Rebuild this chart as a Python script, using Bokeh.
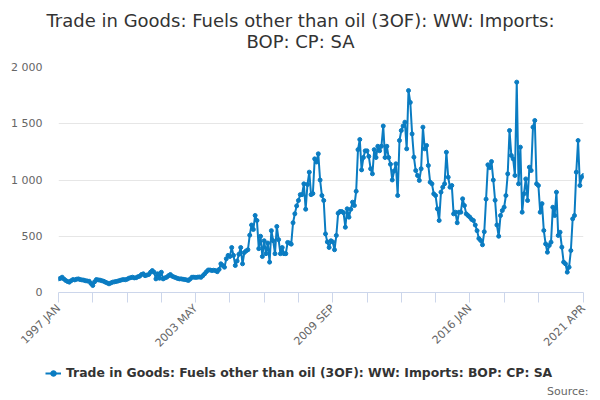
import math
from bokeh.plotting import figure
from bokeh.layouts import column
from bokeh.models import (ColumnDataSource, FixedTicker, Label, Legend, LegendItem,
                          Range1d)
from bokeh.embed import file_html
from bokeh.resources import INLINE

# Monthly values, 1997 JAN .. 2021 APR (month index 0..291)
values_1997_2002 = [
    121, 125, 136, 120, 107, 98, 92, 105, 115, 112, 118, 121,
    115, 112, 110, 105, 102, 100, 80, 62, 95, 115, 112, 110,
    105, 100, 92, 85, 77, 85, 92, 95, 98, 102, 107, 112,
    115, 113, 118, 127, 132, 136, 130, 131, 140, 145, 160, 166,
    150, 155, 160, 180, 195, 180, 121, 166, 127, 180, 121, 130,
    136, 150, 160, 145, 138, 132, 125, 121, 121, 118, 115, 112,
]
values_2003_2008 = [
    107, 120, 136, 136, 134, 136, 138, 135, 150, 166, 185, 200,
    200, 195, 198, 195, 185, 205, 255, 240, 225, 300, 330, 320,
    400, 330, 240, 280, 340, 400, 255, 355, 370, 380, 510, 600,
    560, 685, 640, 390, 500, 320, 460, 345, 440, 270, 550, 460,
    345, 587, 470, 345, 400, 345, 345, 445, 440, 430, 620, 700,
    770, 818, 870, 870, 966, 740, 960, 1070, 870, 880, 1188, 1160,
]
values_2009_2014 = [
    1233, 1000, 862, 818, 521, 450, 400, 460, 450, 380, 507, 705,
    720, 720, 710, 580, 744, 670, 740, 803, 773, 900, 1270, 1360,
    1090, 1200, 1259, 1259, 1210, 1100, 1055, 1270, 1200, 1300, 1260, 1300,
    1480, 1200, 1300, 1200, 1140, 1000, 1080, 1144, 862, 1351, 1440, 1480,
    1514, 1277, 1795, 1690, 1410, 1203, 1084, 1040, 996, 1100, 1470, 1277,
    1307, 1129, 981, 966, 877, 862, 744, 640, 892, 936, 966, 1247,
]
values_2015_2021 = [
    1025, 936, 951, 699, 714, 620, 714, 714, 833, 773, 699, 684,
    670, 650, 640, 600, 550, 480, 462, 424, 540, 830, 1135, 1110,
    1164, 1000, 820, 600, 500, 684, 729, 758, 862, 1055, 1440, 1218,
    1188, 1040, 1870, 966, 1292, 714, 877, 1010, 818, 1114, 1084, 1470,
    1529, 966, 951, 714, 790, 551, 432, 358, 418, 447, 758, 684,
    892, 507, 536, 403, 270, 255, 181, 225, 373, 655, 684, 1070,
    1351, 951, 1025, 1040,
]
values = values_1997_2002 + values_2003_2008 + values_2009_2014 + values_2015_2021
months = list(range(len(values)))

x_tick_positions = [0, 19, 38, 57, 76, 95, 114, 133, 152, 171, 190, 209, 228, 247, 266, 291]
x_tick_labels = {0: "1997 JAN", 76: "2003 MAY", 152: "2009 SEP", 228: "2016 JAN", 291: "2021 APR"}
y_ticks = [0, 500, 1000, 1500, 2000]
y_tick_labels = {0: "0", 500: "500", 1000: "1 000", 1500: "1 500", 2000: "2 000"}

title_lines = ["Trade in Goods: Fuels other than oil (3OF): WW: Imports:", "BOP: CP: SA"]
series_name = "Trade in Goods: Fuels other than oil (3OF): WW: Imports: BOP: CP: SA"
source_text = "Source:"

FONT = "DejaVu Sans"
BLUE = "#0a7cc2"
W = 600

src = ColumnDataSource(data=dict(x=months, y=values))


def blank_fig(h):
    f = figure(width=W, height=h, output_backend="svg", toolbar_location=None,
               x_range=Range1d(-10, -9), y_range=Range1d(-10, -9),
               x_axis_type=None, y_axis_type=None, title_location=None,
               min_border=0, frame_align=False)
    f.outline_line_color = None
    f.xgrid.visible = False
    f.ygrid.visible = False
    return f


# ---- title strip (screen units: from left / from bottom of the strip)
TH = 57
title_fig = blank_fig(TH)
for i, line in enumerate(title_lines):
    title_fig.add_layout(Label(x=300, y=TH - 20 - 21 * i, x_units="screen", y_units="screen",
                               text=line, text_align="center", text_baseline="middle",
                               text_font=FONT, text_font_size="18px",
                               text_color="#333333"))

# ---- main chart
p = figure(width=W, height=305, output_backend="svg", toolbar_location=None,
           x_range=Range1d(0, 291), y_range=Range1d(0, 2000), frame_align=False,
           min_border_left=58, min_border_right=17, min_border_top=10, min_border_bottom=70)
p.outline_line_color = None

p.xgrid.visible = False
p.ygrid.ticker = FixedTicker(ticks=y_ticks)
p.ygrid.grid_line_color = "#e6e6e6"
p.ygrid.grid_line_width = 1

ya = p.yaxis[0]
ya.ticker = FixedTicker(ticks=y_ticks)
ya.major_label_overrides = y_tick_labels
ya.axis_line_color = None
ya.major_tick_line_color = None
ya.minor_tick_line_color = None
ya.major_tick_out = 0
ya.major_tick_in = 0
ya.major_label_standoff = 16
ya.major_label_text_font = FONT
ya.major_label_text_font_size = "11px"
ya.major_label_text_color = "#666666"

xa = p.xaxis[0]
xa.ticker = FixedTicker(ticks=x_tick_positions)
xa.major_label_overrides = {t: x_tick_labels.get(t, "") for t in x_tick_positions}
xa.axis_line_color = "#ccd6eb"
xa.major_tick_line_color = "#ccd6eb"
xa.minor_tick_line_color = None
xa.major_tick_out = 10
xa.major_tick_in = 0
xa.major_label_orientation = math.pi / 4
xa.major_label_standoff = 4
xa.major_label_text_font = FONT
xa.major_label_text_font_size = "11px"
xa.major_label_text_color = "#666666"

p.line("x", "y", source=src, line_color=BLUE, line_width=2)
p.scatter("x", "y", source=src, size=4, color=BLUE)

# ---- legend + source strip (series renderers here lie outside the strip's ranges,
#      they only provide the legend symbol)
BH = 38
bottom_fig = blank_fig(BH)
lg_line = bottom_fig.line("x", "y", source=src, line_color=BLUE, line_width=2)
lg_dot = bottom_fig.scatter("x", "y", source=src, size=4, color=BLUE)
legend = Legend(items=[LegendItem(label=series_name, renderers=[lg_line, lg_dot])],
                location=(45, 20), orientation="horizontal",
                padding=0, margin=0, spacing=0,
                glyph_width=16, glyph_height=14, label_height=14, label_standoff=5,
                label_text_font=FONT, label_text_font_size="12.4px",
                label_text_font_style="bold", label_text_color="#333333",
                border_line_color=None, background_fill_alpha=0)
bottom_fig.add_layout(legend, "center")
bottom_fig.add_layout(Label(x=588, y=9, x_units="screen", y_units="screen",
                            text=source_text, text_align="right", text_baseline="middle",
                            text_font=FONT, text_font_size="11px",
                            text_color="#666666"))

layout = column(title_fig, p, bottom_fig, spacing=0)
open("out.html", "w").write(file_html(layout, INLINE))
